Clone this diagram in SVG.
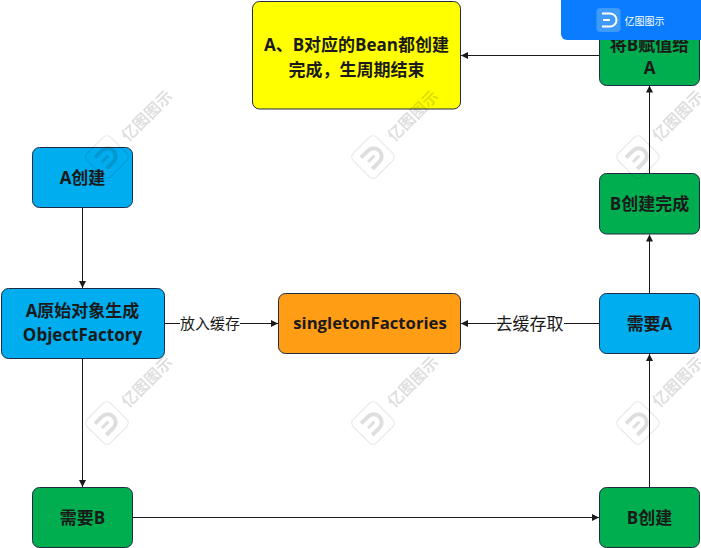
<svg xmlns="http://www.w3.org/2000/svg" xmlns:xlink="http://www.w3.org/1999/xlink" width="701" height="548" viewBox="0 0 701 548">
<style>
text{font-family:"Open Sans","Noto Sans CJK SC","Noto Sans",sans-serif;text-anchor:middle}
.n{stroke:#1f2a44;stroke-width:1}
.t{font-size:17px;font-weight:700;fill:#1a1a1a}
.c{fill:none;stroke:#1a1a1a;stroke-width:1;marker-end:url(#a)}
.l{font-size:15px;fill:#1a1a1a}
.wt{font-size:16px;fill:#000;fill-opacity:.15;font-weight:700}
</style>
<defs>
<marker id="a" markerWidth="8" markerHeight="8" refX="7" refY="4" orient="auto" markerUnits="userSpaceOnUse"><path d="M0 0.5L7 4L0 7.500Z" fill="#1a1a1a"/></marker>
<g id="wm">
<rect x="-16.500" y="-16.500" width="33" height="33" rx="5" transform="rotate(45)" fill="none" stroke="#000" stroke-opacity=".1" stroke-width="1"/>
<g transform="rotate(-45)" fill="none" stroke="#000" stroke-opacity=".13">
<path d="M-9 -8H1A8 8 0 0 1 1 8H-9" stroke-width="4"/>
<path d="M-7 0H2" stroke-width="3"/>
</g>
<text class="wt" x="40" y="-41" dy="5.500" transform="rotate(-45 40 -41)">亿图图示</text>
</g>
</defs>
<g id="connectors">
<path class="c" d="M82.500 207.500V288"/>
<path class="c" d="M82.500 358.500V487"/>
<path class="c" d="M132.500 517.500H599"/>
<path class="c" d="M649.500 487.500V354"/>
<path class="c" d="M649.500 293.500V234.500"/>
<path class="c" d="M649.500 173.500V85.500"/>
<path class="c" d="M599.500 55.500H461"/>
<path class="c" d="M164.500 323.500H278"/>
<path class="c" d="M599.500 323.500H461"/>
<rect x="180" y="314" width="60" height="20" fill="#fff"/>
<text class="l" x="210" y="329">放入缓存</text>
<rect x="496" y="314" width="68" height="20" fill="#fff"/>
<text class="l" x="529.500" y="330" style="font-size:17px">去缓存取</text>
</g>
<g id="n-end"><rect class="n" x="252.500" y="1.500" width="208" height="107.500" rx="7" fill="#ffff00"/><text class="t" x="356.500" y="51">A、B对应的Bean都创建</text><text class="t" x="356.500" y="76">完成，生周期结束</text></g>
<g id="n-assign"><rect class="n" x="599.500" y="25.500" width="100" height="60" rx="7" fill="#00ae4f"/><text class="t" x="649.500" y="51">将B赋值给</text><text class="t" x="649.500" y="74">A</text></g>
<g id="n-bdone"><rect class="n" x="599.500" y="173.500" width="100" height="60.500" rx="7" fill="#00ae4f"/><text class="t" x="649.500" y="210">B创建完成</text></g>
<g id="n-needa"><rect class="n" x="599.500" y="293.500" width="100" height="60" rx="7" fill="#00adef"/><text class="t" x="649.500" y="330">需要A</text></g>
<g id="n-b"><rect class="n" x="599.500" y="487.500" width="100" height="60" rx="7" fill="#00ae4f"/><text class="t" x="649.500" y="524">B创建</text></g>
<g id="n-a"><rect class="n" x="32.500" y="147.500" width="100" height="60" rx="7" fill="#00adef"/><text class="t" x="82.500" y="184">A创建</text></g>
<g id="n-raw"><rect class="n" x="1.500" y="288.500" width="163" height="70" rx="7" fill="#00adef"/><text class="t" x="82.500" y="317">A原始对象生成</text><text class="t" x="82.500" y="341">ObjectFactory</text></g>
<g id="n-needb"><rect class="n" x="32.500" y="487.500" width="100" height="60" rx="7" fill="#00ae4f"/><text class="t" x="82.500" y="524">需要B</text></g>
<g id="n-sf"><rect class="n" x="278.500" y="293.500" width="182" height="60" rx="7" fill="#ff9d14"/><text class="t" x="370" y="329" style="font-size:16.700px">singletonFactories</text></g>
<g id="watermarks">
<use xlink:href="#wm" x="107" y="157"/>
<use xlink:href="#wm" x="373" y="157"/>
<use xlink:href="#wm" x="638" y="157"/>
<use xlink:href="#wm" x="107" y="423"/>
<use xlink:href="#wm" x="373" y="423"/>
<use xlink:href="#wm" x="638" y="423"/>
</g>
<g id="badge">
<path d="M561 0H701V40H567A6 6 0 0 1 561 34Z" fill="#0a7cff"/>
<rect x="596.500" y="8" width="24" height="24" rx="4" fill="#3f9bfa"/>
<path d="M602 13.500H610A6.500 6.500 0 0 1 610 26.500H602M603 20H610" fill="none" stroke="#fff" stroke-width="2"/>
<text x="644.500" y="25" style="font-size:10px;fill:#fff">亿图图示</text>
</g>
</svg>
